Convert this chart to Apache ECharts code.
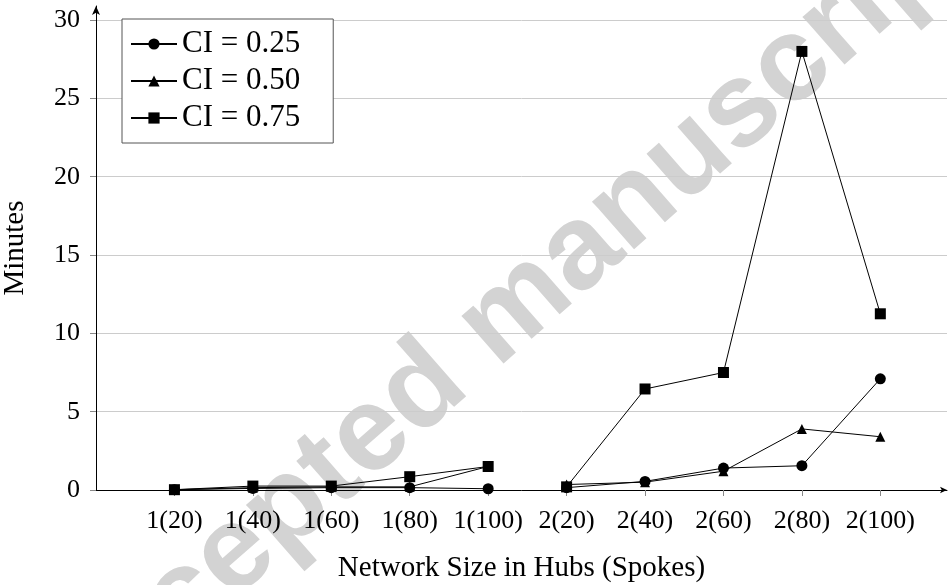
<!DOCTYPE html>
<html>
<head>
<meta charset="utf-8">
<script src="https://cdn.jsdelivr.net/npm/echarts@6/dist/echarts.min.js"></script>
<style>
  html, body { margin: 0; padding: 0; background: #fff; }
  #main { width: 952px; height: 585px; }
</style>
</head>
<body>
<div id="main"></div>
<script>
// categories: hubs(spokes)
var categories = ['1(20)', '1(40)', '1(60)', '1(80)', '1(100)', '2(20)', '2(40)', '2(60)', '2(80)', '2(100)'];
var ci25 = [0.02, 0.1, 0.15, 0.15, 0.08, 0.15, 0.55, 1.4, 1.55, 7.1];
var ci50 = [0.02, 0.15, 0.2, 0.2, 1.5, 0.35, 0.5, 1.2, 3.9, 3.4];
var ci75 = [0.02, 0.25, 0.25, 0.85, 1.5, 0.2, 6.45, 7.5, 28, 11.25];
var yTicks = [0, 5, 10, 15, 20, 25, 30];

var serifFont = '"Liberation Serif", "DejaVu Serif", serif';

var chart = echarts.init(document.getElementById('main'));

// x positions 1..10, lines broken between hub groups
var xTicks = categories.map(function (c, i) { return i + 1; });
var hubs = categories.map(function (c) { return c.split('(')[0]; });

function makeSeries(name, values, symbol) {
    var groups = {};
    values.forEach(function (v, i) {
        (groups[hubs[i]] = groups[hubs[i]] || []).push([i + 1, v]);
    });
    return Object.keys(groups).map(function (h) {
        return {
            name: name,
            type: 'line',
            data: groups[h],
            symbol: symbol,
            symbolSize: symbol === 'triangle' ? 10 : 11,
            lineStyle: {color: '#000', width: 1},
            itemStyle: {color: '#000'},
            z: 3
        };
    });
}

var series = [].concat(
    makeSeries('CI = 0.25', ci25, 'circle'),
    makeSeries('CI = 0.50', ci50, 'triangle'),
    makeSeries('CI = 0.75', ci75, 'rect')
);

var option = {
    backgroundColor: '#fff',
    animation: false,
    graphic: [{
        type: 'text',
        x: 503, y: 320,
        rotation: 0.72,
        z: -10,
        silent: true,
        style: {
            text: 'Accepted manuscript',
            font: 'bold 120px "Liberation Sans", Arial, sans-serif',
            fill: '#d3d3d3',
            align: 'center',
            verticalAlign: 'middle'
        }
    }],
    grid: {left: 96, right: 5, top: 6, bottom: 95, containLabel: false, outerBoundsMode: 'none'},
    legend: {
        data: ['CI = 0.25', 'CI = 0.50', 'CI = 0.75'],
        orient: 'vertical',
        left: 122,
        top: 19,
        padding: [9, 33, 9, 8],
        itemWidth: 46,
        itemHeight: 14,
        itemGap: 5,
        backgroundColor: '#fff',
        borderColor: '#555',
        borderWidth: 1,
        textStyle: {fontFamily: serifFont, fontSize: 31, lineHeight: 32, color: '#000'}
    },
    xAxis: {
        type: 'value',
        min: 0,
        max: 10.85,
        name: 'Network Size in Hubs (Spokes)',
        nameLocation: 'middle',
        nameGap: 64,
        nameTextStyle: {fontFamily: serifFont, fontSize: 29, color: '#000'},
        axisLine: {
            lineStyle: {color: '#000', width: 1},
            symbol: ['none', 'arrow'],
            symbolSize: [5, 7]
        },
        axisTick: {customValues: xTicks, length: 6, lineStyle: {color: '#888'}},
        axisLabel: {
            customValues: xTicks,
            margin: 18,
            fontFamily: serifFont,
            fontSize: 26,
            color: '#000',
            formatter: function (v) { return categories[v - 1] || ''; }
        },
        splitLine: {show: false}
    },
    yAxis: {
        type: 'value',
        min: 0,
        max: 30.9,
        name: 'Minutes',
        nameLocation: 'middle',
        nameGap: 66,
        nameTextStyle: {fontFamily: serifFont, fontSize: 29, color: '#000'},
        axisLine: {
            show: true,
            lineStyle: {color: '#000', width: 1},
            symbol: ['none', 'arrow'],
            symbolSize: [6, 9]
        },
        axisTick: {show: true, customValues: yTicks, length: 6, lineStyle: {color: '#888'}},
        axisLabel: {
            customValues: yTicks,
            margin: 16,
            fontFamily: serifFont,
            fontSize: 26,
            color: '#000'
        },
        splitLine: {show: true, lineStyle: {color: '#ccc', width: 1}}
    },
    series: series
};

chart.setOption(option);
</script>
</body>
</html>
